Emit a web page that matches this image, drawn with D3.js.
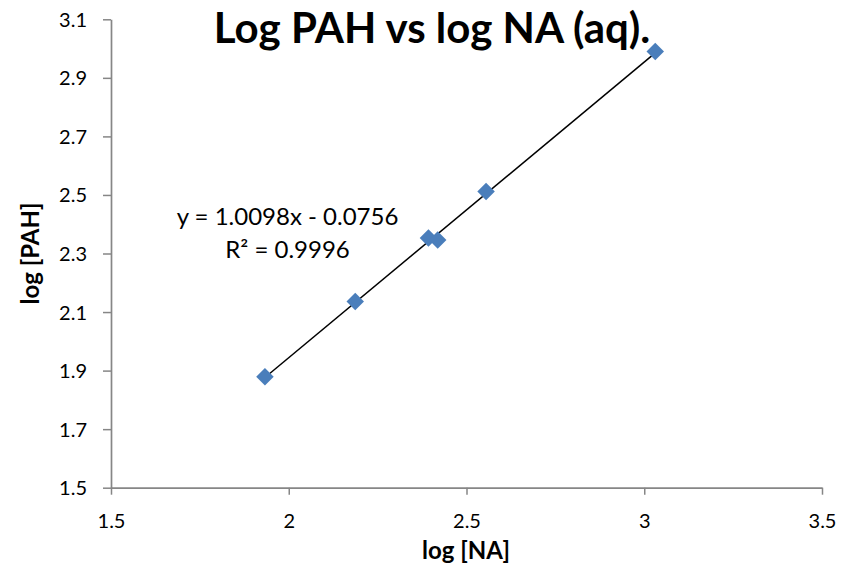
<!DOCTYPE html>
<html><head><meta charset="utf-8">
<script src="https://cdn.jsdelivr.net/npm/d3@7"></script>
<style>body{margin:0;background:#fff}svg{display:block}text{font-family:Lato,"Open Sans",sans-serif}</style>
</head><body>
<script>
const xValues = [1.933, 2.187, 2.393, 2.419, 2.555, 3.031];
const yValues = [1.879, 2.136, 2.353, 2.346, 2.512, 2.990];
const xTicks = [1.5, 2, 2.5, 3, 3.5];
const yTicks = [1.5, 1.7, 1.9, 2.1, 2.3, 2.5, 2.7, 2.9, 3.1];
const slope = 1.0098, intercept = -0.0756;
const titleText = "Log PAH vs log NA (aq).";
const xTitle = "log [NA]", yTitle = "log [PAH]";
const eqText = "y = 1.0098x - 0.0756";
const r2Text = "R² = 0.9996";

const W = 854, H = 577;
const svg = d3.select("body").append("svg").attr("width", W).attr("height", H);
const x = d3.scaleLinear().domain([1.5, 3.5]).range([111, 822]);
const y = d3.scaleLinear().domain([1.5, 3.1]).range([487.7, 19.3]);
const axisColor = "#868686";

const gx = svg.append("g").attr("transform", `translate(0,${y(1.5)})`)
  .call(d3.axisBottom(x).tickValues(xTicks).tickFormat(d3.format("")).tickSize(7).tickSizeOuter(0));
const gy = svg.append("g").attr("transform", `translate(${x(1.5)},0)`)
  .call(d3.axisLeft(y).tickValues(yTicks).tickFormat(d3.format(".1f")).tickSize(8).tickSizeOuter(0));
[gx, gy].forEach(g => {
  g.select(".domain").attr("stroke", axisColor).attr("stroke-width", 1.7);
  g.selectAll(".tick line").attr("stroke", axisColor).attr("stroke-width", 1.5);
  g.selectAll(".tick text").attr("fill", "#000").style("font-size", "20px").style("font-family", "Lato, 'Open Sans', sans-serif");
});
gx.selectAll(".tick text").attr("dy", "0").attr("y", 40);
gy.selectAll(".tick text").attr("x", -24).attr("dy", "0.35em");

// trend line
const x0 = d3.min(xValues), x1 = d3.max(xValues);
svg.append("line")
  .attr("x1", x(x0)).attr("y1", y(slope * x0 + intercept))
  .attr("x2", x(x1)).attr("y2", y(slope * x1 + intercept))
  .attr("stroke", "#000").attr("stroke-width", 1.5);

// points
const diamond = d3.symbol().type(d3.symbolDiamond2).size(195);
svg.append("g").selectAll("path").data(xValues).join("path")
  .attr("d", diamond)
  .attr("transform", (d, i) => `translate(${x(d)},${y(yValues[i])})`)
  .attr("fill", "#4a7ebb");

// title
svg.append("text").attr("x", 432).attr("y", 43).attr("text-anchor", "middle")
  .style("font-size", "42px").style("font-weight", "bold").text(titleText);
// axis titles
svg.append("text").attr("x", 466).attr("y", 559).attr("text-anchor", "middle")
  .style("font-size", "24px").style("font-weight", "bold").text(xTitle);
svg.append("text").attr("transform", `translate(39,253.5) rotate(-90)`).attr("text-anchor", "middle")
  .style("font-size", "24px").style("font-weight", "bold").text(yTitle);
// equation
svg.append("text").attr("x", 287.5).attr("y", 225).attr("text-anchor", "middle")
  .style("font-size", "24px").text(eqText);
svg.append("text").attr("x", 287.5).attr("y", 258).attr("text-anchor", "middle")
  .style("font-size", "24px").text(r2Text);
</script>
</body></html>
